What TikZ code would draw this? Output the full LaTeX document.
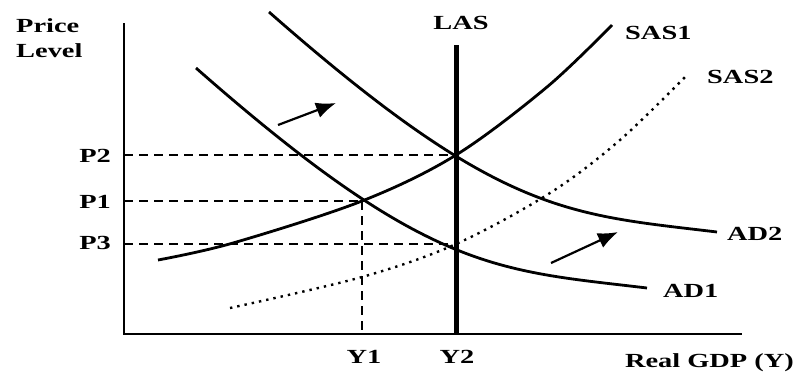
\documentclass[tikz,border=0pt]{standalone}
\usepackage{fontspec}
\setmainfont{Liberation Serif}[FakeStretch=1.42]
\usetikzlibrary{arrows.meta}
\tikzset{
  lbl/.style={font=\fontsize{20}{25}\selectfont\bfseries, inner sep=0pt},
  curve/.style={line width=2.8pt},
  guide/.style={line width=1.1pt, dash pattern=on 9pt off 6pt},
  shiftarrow/.style={line width=2.2pt, -{Latex[length=20pt,width=16pt]}}
}
\begin{document}
\begin{tikzpicture}[x=1pt, y=-1pt]
        \useasboundingbox (0,0) rectangle (795,376);
        % Axes
        \coordinate (top) at (124,23);
        \coordinate (origin) at (124,334);
        \coordinate (right) at (742,334);
        \draw[line width=2.4pt] (top) -- (origin) -- (right);
        \node[lbl, anchor=west, align=left] (ylab) at (16,38) {Price\\Level};
        \node[lbl, anchor=east] (xlab) at (794,363) {Real GDP (Y)};

        % Equilibria
        \coordinate (E1) at (362,201);
        \coordinate (E2) at (456,155);
        \coordinate (E3) at (456,244);

        % LAS
        \coordinate (las top) at (456,45);
        \draw[line width=5pt] (las top) -- (456,334) coordinate (las foot);
        \node[lbl] (las) at (461,23) {LAS};

        % Guides to the axes
        \coordinate (p2) at (124,155);
        \coordinate (p1) at (124,201);
        \coordinate (p3) at (124,244);
        \coordinate (y1) at (362,334);
        \draw[guide] (p2) -- (E2);
        \draw[guide, line width=1.7pt] (p1) -- (E1);
        \draw[guide, line width=1.7pt] (p3) -- (E3);
        \draw[guide] (E1) -- (y1);
        \node[lbl, anchor=east] (P2) at (111,156) {P2};
        \node[lbl, anchor=east] (P1) at (111,202) {P1};
        \node[lbl, anchor=east] (P3) at (111,243) {P3};
        \node[lbl] (Y1) at (364,357) {Y1};
        \node[lbl] (Y2) at (457,357) {Y2};

        % Short-run supply
        \draw[curve] plot[smooth, tension=0.55] coordinates
          {(158,260) (233,243) (362,201) (456,155) (547,87) (612,25)};
        \node[lbl, anchor=west] (sas1) at (625,33) {SAS1};
        \draw[line width=2.4pt, dash pattern=on 2.4pt off 5pt] plot[smooth, tension=0.55] coordinates
          {(230,308) (362,277) (456,244) (550,193) (620,140) (688,74)};
        \node[lbl, anchor=west] (sas2) at (707,77) {SAS2};

        % Demand
        \draw[curve] (196,68) .. controls (429,273) and (497,270) .. (647,288);
        \node[lbl, anchor=west] (ad1) at (663,291) {AD1};
        \draw[curve] (269,12) .. controls (500,215) and (567,214) .. (717,232);
        \node[lbl, anchor=west] (ad2) at (727,234) {AD2};

        % Shifts
        \coordinate (a1) at (278,125);
        \coordinate (b1) at (336,103);
        \draw[shiftarrow] (a1) -- (b1);
        \coordinate (a2) at (551,263);
        \coordinate (b2) at (618,232);
        \draw[shiftarrow] (a2) -- (b2);
    \end{tikzpicture}
\end{document}
